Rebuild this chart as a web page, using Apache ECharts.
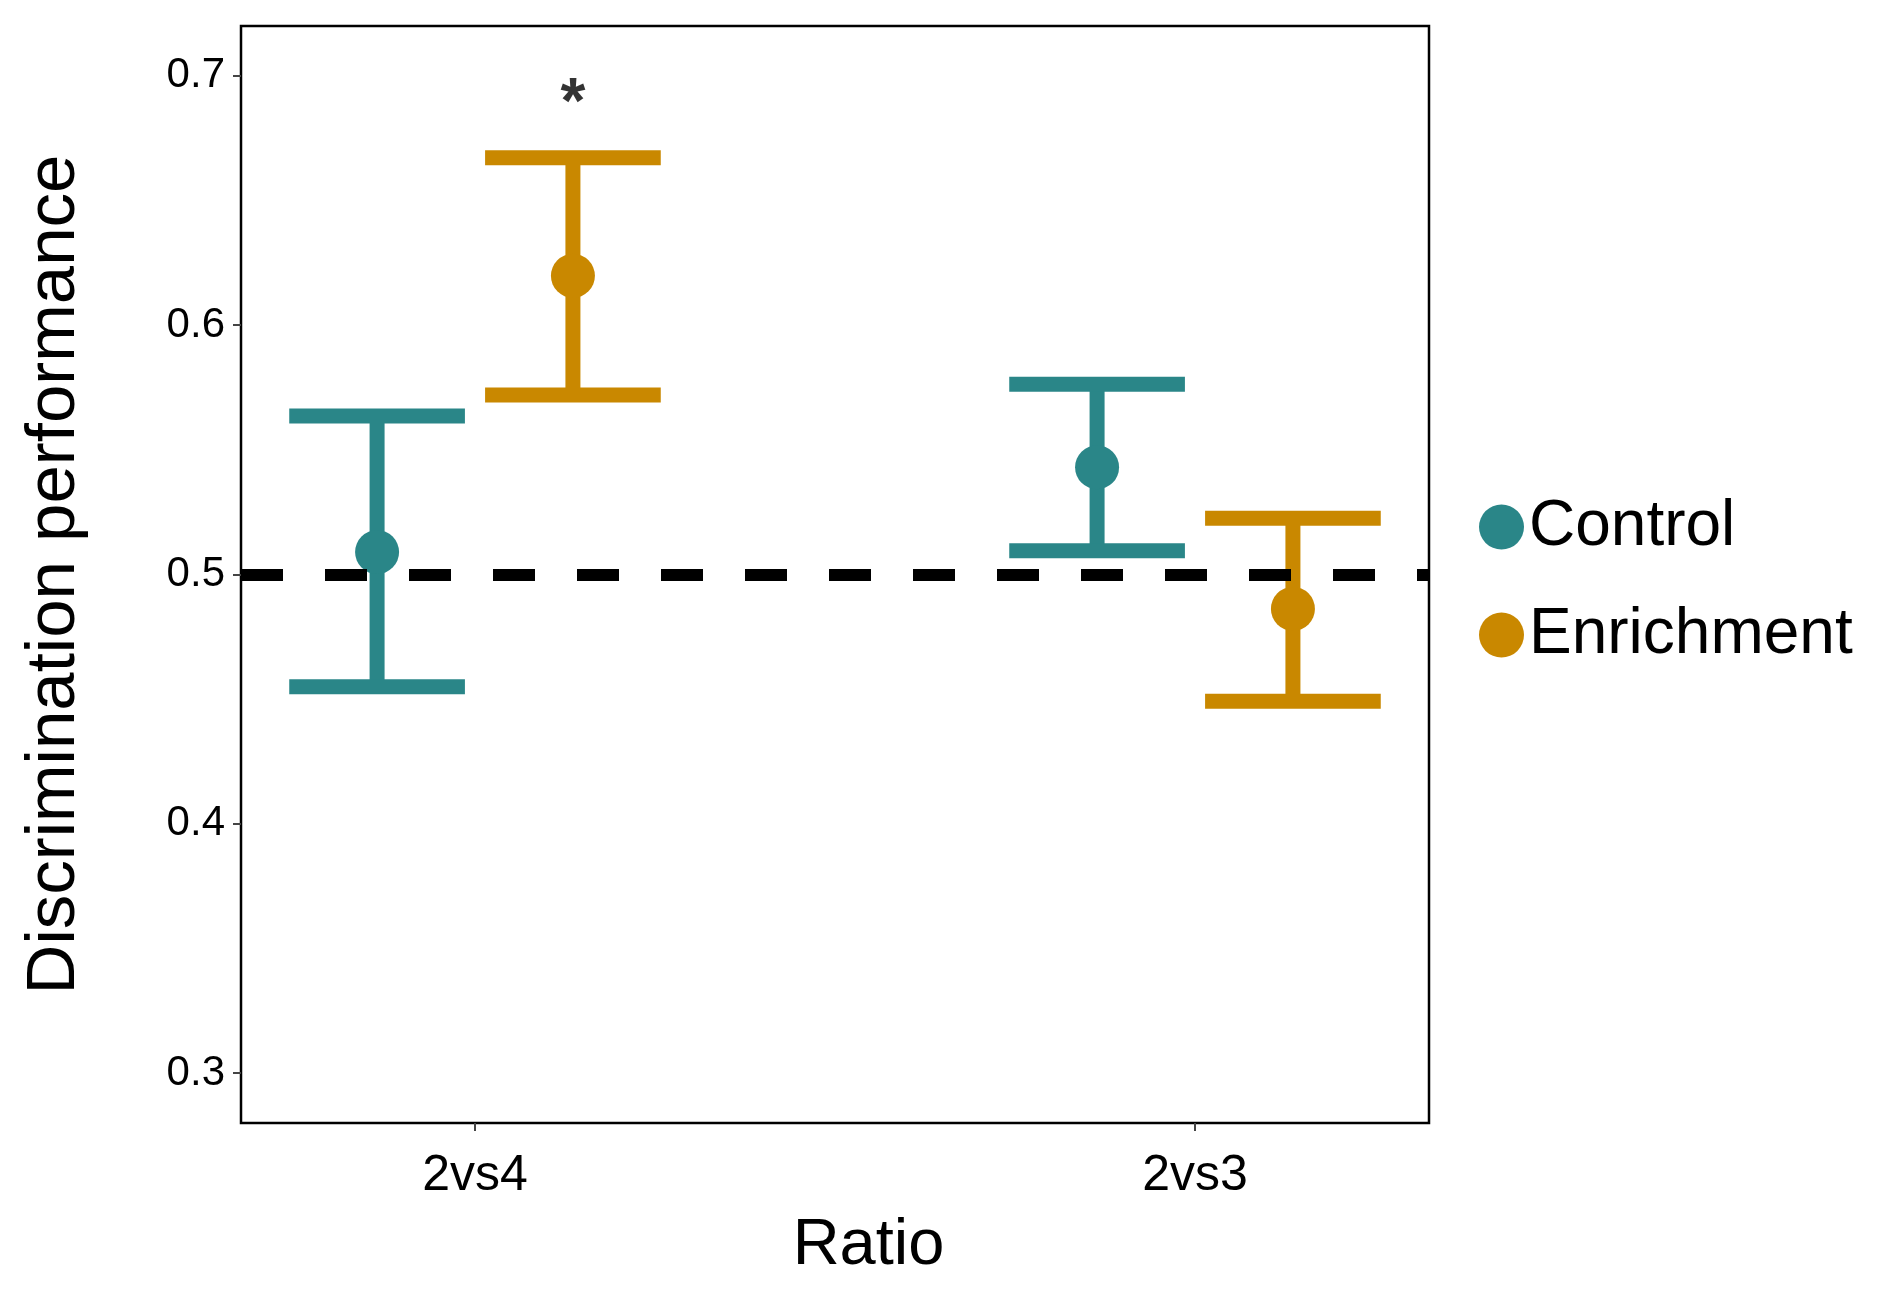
<!DOCTYPE html>
<html>
<head>
<meta charset="utf-8">
<script src="https://cdn.jsdelivr.net/npm/echarts@6/dist/echarts.min.js"></script>
<style>
  html, body { margin: 0; padding: 0; background: #fff; }
  #chart { width: 1877px; height: 1292px; }
</style>
</head>
<body>
<div id="chart"></div>
<script>
// ---- data ----
const categories = ['2vs4', '2vs3'];
const groups = ['Control', 'Enrichment'];
const controlMean  = [0.509, 0.543];
const controlLower = [0.455, 0.5095];
const controlUpper = [0.5636, 0.5763];
const enrichMean   = [0.6198, 0.4862];
const enrichLower  = [0.572, 0.4492];
const enrichUpper  = [0.6672, 0.5226];
const chanceLevel = 0.5;
const yTicks = [0.3, 0.4, 0.5, 0.6, 0.7];
const sigCategory = '2vs4';
const sigGroup = 'Enrichment';
const sigValue = 0.6883;
const sigText = '*';

// ---- styling / layout ----
const colors = { Control: '#2A8688', Enrichment: '#C98800' };
const dodge = 0.136;
const capHalf = 0.122;
const barWidth = 15;
const FONT = 'Liberation Sans, Arial, sans-serif';

function xPos(catIdx, group) {
  return (catIdx + 1) + (group === 'Control' ? -dodge : dodge);
}

const groupData = {
  Control: { mean: controlMean, lo: controlLower, hi: controlUpper },
  Enrichment: { mean: enrichMean, lo: enrichLower, hi: enrichUpper }
};

function errRender(params, api) {
  const x = api.value(0), lo = api.value(1), hi = api.value(2);
  const pLo = api.coord([x, lo]);
  const pHi = api.coord([x, hi]);
  const tl = api.coord([x - capHalf, hi]), tr = api.coord([x + capHalf, hi]);
  const bl = api.coord([x - capHalf, lo]), br = api.coord([x + capHalf, lo]);
  const color = api.visual('color');
  const st = { stroke: color, lineWidth: barWidth, lineCap: 'butt' };
  return {
    type: 'group',
    children: [
      { type: 'line', shape: { x1: pHi[0], y1: pHi[1], x2: pLo[0], y2: pLo[1] }, style: st },
      { type: 'line', shape: { x1: tl[0], y1: tl[1], x2: tr[0], y2: tr[1] }, style: st },
      { type: 'line', shape: { x1: bl[0], y1: bl[1], x2: br[0], y2: br[1] }, style: st }
    ]
  };
}

const series = [];
groups.forEach(g => {
  const d = groupData[g];
  series.push({
    name: g,
    type: 'scatter',
    z: 4,
    symbol: 'circle',
    symbolSize: 44,
    itemStyle: { color: colors[g], opacity: 1 },
    data: categories.map((c, i) => [xPos(i, g), d.mean[i]])
  });
});
groups.forEach(g => {
  const d = groupData[g];
  series.push({
    name: g,
    type: 'custom',
    z: 3,
    itemStyle: { color: colors[g] },
    renderItem: errRender,
    encode: { x: 0, y: [1, 2] },
    data: categories.map((c, i) => [xPos(i, g), d.lo[i], d.hi[i]])
  });
});
// chance-level dashed line
series.push({
  name: 'chance',
  type: 'scatter',
  z: 2,
  data: [],
  markLine: {
    silent: true,
    symbol: ['none', 'none'],
    label: { show: false },
    lineStyle: { color: '#000', width: 12, type: [42, 42], opacity: 1 },
    data: [{ yAxis: chanceLevel }]
  }
});
// significance asterisk
series.push({
  name: 'sig',
  type: 'scatter',
  z: 5,
  symbolSize: 1,
  itemStyle: { color: 'rgba(0,0,0,0)' },
  label: {
    show: true, position: 'inside', formatter: sigText,
    fontSize: 64, fontWeight: 'bold', color: '#000', fontFamily: FONT
  },
  data: [[xPos(categories.indexOf(sigCategory), sigGroup), sigValue]]
});

const chart = echarts.init(document.getElementById('chart'), null, { renderer: 'canvas' });
chart.setOption({
  backgroundColor: '#fff',
  animation: false,
  grid: {
    left: 241, right: 448, top: 26, bottom: 169,
    show: true, borderColor: '#000', borderWidth: 2.5, backgroundColor: '#fff'
  },
  legend: {
    orient: 'vertical',
    left: 1474,
    top: 490,
    itemWidth: 45,
    itemHeight: 45,
    itemGap: 44,
    data: groups.map(g => ({ name: g, icon: 'circle' })),
    textStyle: { fontSize: 64, color: '#000', fontFamily: FONT }
  },
  xAxis: {
    type: 'value',
    min: 0.675,
    max: 2.325,
    splitNumber: 2,
    minInterval: 1,
    maxInterval: 1,
    name: 'Ratio',
    nameLocation: 'middle',
    nameGap: 91,
    nameTextStyle: { fontSize: 65, color: '#000', fontFamily: FONT, padding: [0, 0, 0, 67] },
    axisLine: { show: false },
    splitLine: { show: false },
    axisTick: { show: true, length: 8, lineStyle: { color: '#444', width: 2 } },
    axisLabel: {
      margin: 28, fontSize: 50, color: '#000', fontFamily: FONT,
      showMinLabel: false, showMaxLabel: false,
      formatter: v => {
        const i = Math.round(v);
        return Math.abs(v - i) < 1e-6 && categories[i - 1] ? categories[i - 1] : '';
      }
    }
  },
  yAxis: {
    type: 'value',
    min: 0.28,
    max: 0.72,
    splitNumber: 4,
    minInterval: 0.1,
    maxInterval: 0.1,
    name: 'Discrimination performance',
    nameLocation: 'middle',
    nameGap: 152,
    nameTextStyle: { fontSize: 69, color: '#000', fontFamily: FONT },
    axisLine: { show: false },
    splitLine: { show: false },
    axisTick: { show: true, length: 8, lineStyle: { color: '#444', width: 2 } },
    axisLabel: {
      margin: 16, fontSize: 42, color: '#000', fontFamily: FONT,
      showMinLabel: false, showMaxLabel: false,
      formatter: v => {
        const t = yTicks.find(k => Math.abs(k - v) < 1e-6);
        return t !== undefined ? t.toFixed(1) : '';
      }
    }
  },
  series: series
});
</script>
</body>
</html>
